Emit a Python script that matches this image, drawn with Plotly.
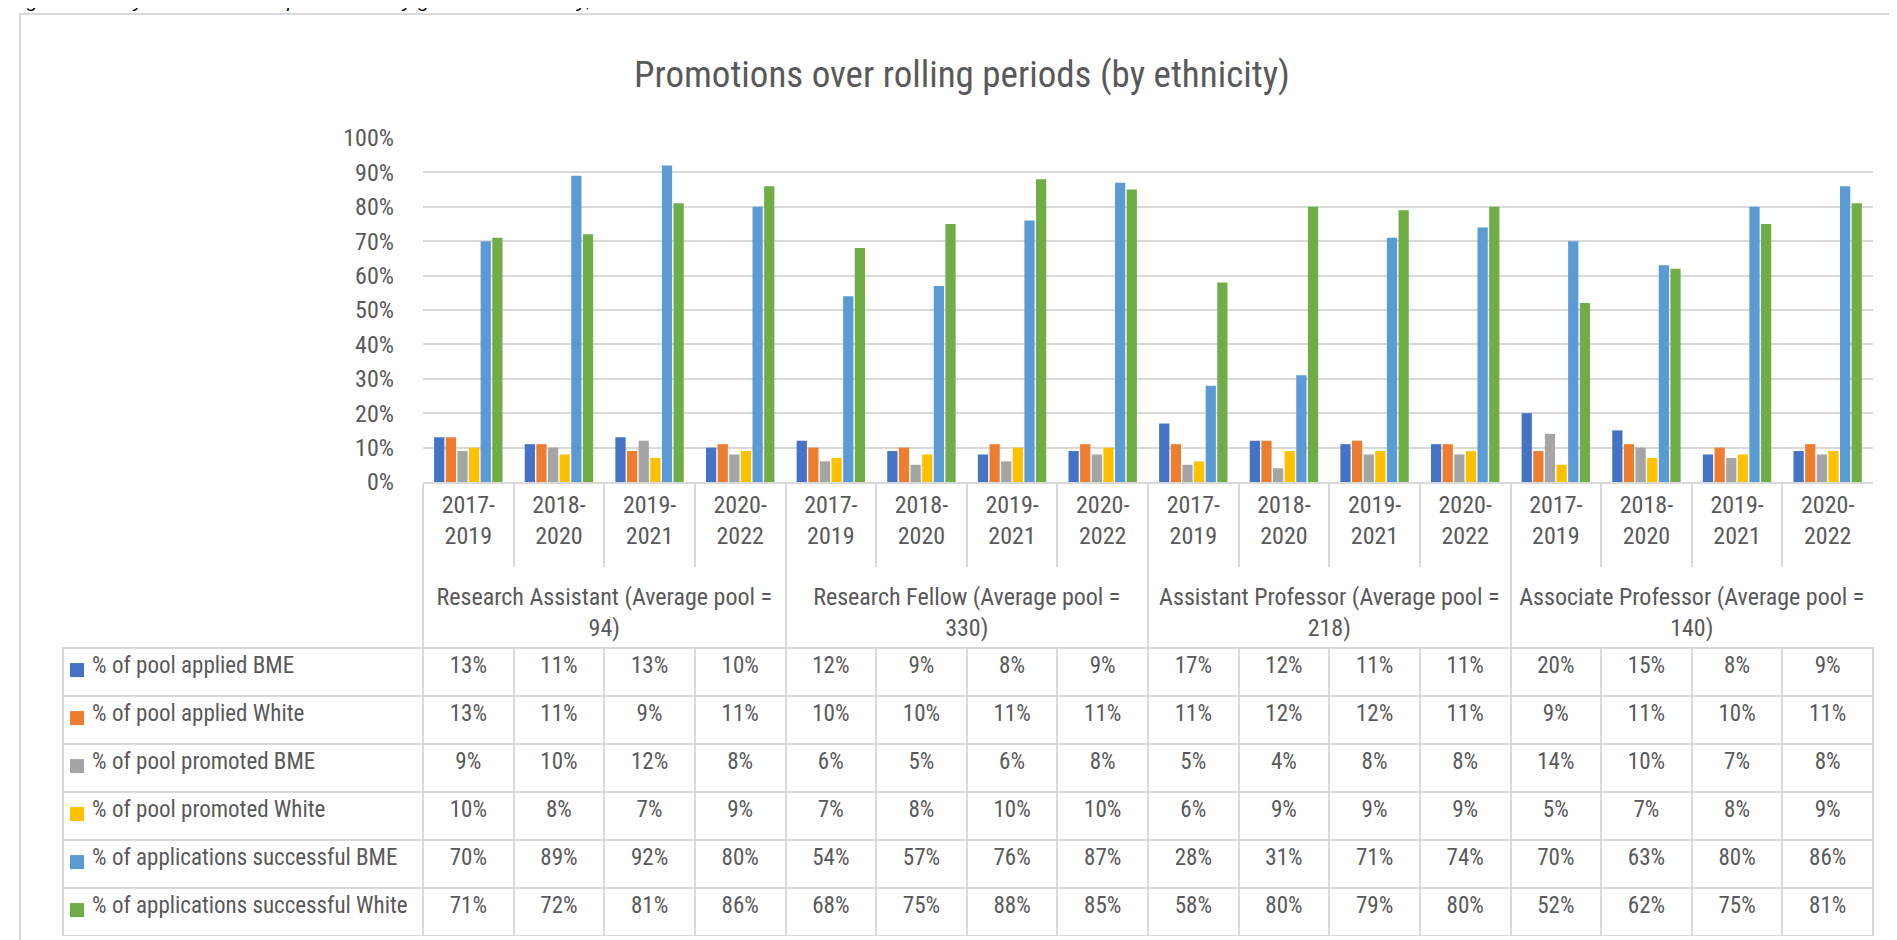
import plotly.graph_objects as go

grades = [
    "Research Assistant (Average pool =<br>94)<br> ",
    "Research Fellow (Average pool =<br>330)<br> ",
    "Assistant Professor (Average pool =<br>218)<br> ",
    "Associate Professor (Average pool =<br>140)<br> ",
]
periods = ["2017-<br>2019<br> ", "2018-<br>2020<br> ", "2019-<br>2021<br> ", "2020-<br>2022<br> "]

series_names = [
    "% of pool applied BME",
    "% of pool applied White",
    "% of pool promoted BME",
    "% of pool promoted White",
    "% of applications successful BME",
    "% of applications successful White",
]
series_colors = ["#4472C4", "#ED7D31", "#A5A5A5", "#FFC000", "#5B9BD5", "#70AD47"]

applied_bme = [13, 11, 13, 10, 12, 9, 8, 9, 17, 12, 11, 11, 20, 15, 8, 9]
applied_white = [13, 11, 9, 11, 10, 10, 11, 11, 11, 12, 12, 11, 9, 11, 10, 11]
promoted_bme = [9, 10, 12, 8, 6, 5, 6, 8, 5, 4, 8, 8, 14, 10, 7, 8]
promoted_white = [10, 8, 7, 9, 7, 8, 10, 10, 6, 9, 9, 9, 5, 7, 8, 9]
success_bme = [70, 89, 92, 80, 54, 57, 76, 87, 28, 31, 71, 74, 70, 63, 80, 86]
success_white = [71, 72, 81, 86, 68, 75, 88, 85, 58, 80, 79, 80, 52, 62, 75, 81]

series_values = [applied_bme, applied_white, promoted_bme, promoted_white,
                 success_bme, success_white]

FONT = "Liberation Sans Narrow, Arial Narrow, Roboto Condensed, Liberation Sans, sans-serif"
TXT = "#595959"
LINE = "#d9d9d9"
W, H = 1897, 940

x_groups = [g for g in grades for _ in periods]
x_periods = [p for _ in grades for p in periods]

fig = go.Figure()
for name, col, vals in zip(series_names, series_colors, series_values):
    fig.add_trace(go.Bar(
        x=[x_groups, x_periods],
        y=[v / 100 for v in vals],
        name=name,
        marker=dict(color=col, line=dict(width=0)),
        showlegend=False,
    ))

# data table under the axis
def pct(v):
    return f"{v}%"

pad = "\u00a0" * 4
row_labels = [pad + n for n in series_names]
header_vals = [row_labels[0]] + [pct(v) for v in series_values[0]]
cell_vals = [row_labels[1:]] + [[pct(s[j]) for s in series_values[1:]] for j in range(16)]

fig.add_trace(go.Table(
    domain=dict(x=[55 / W, 1865 / W], y=[1 - 928 / H, 1 - 640 / H]),
    columnwidth=[360] + [90.625] * 16,
    header=dict(values=header_vals, height=48, fill_color="rgba(0,0,0,0)",
                line=dict(color=LINE, width=2),
                align=["left"] + ["center"] * 16,
                font=dict(family=FONT, size=23, color=TXT)),
    cells=dict(values=cell_vals, height=48, fill_color="rgba(0,0,0,0)",
               line=dict(color=LINE, width=2),
               align=["left"] + ["center"] * 16,
               font=dict(family=FONT, size=23, color=TXT)),
))

# legend keys in the table's first column
fig.add_trace(go.Scatter(
    x=[14] * len(series_names),
    y=[i + 0.46 for i in range(len(series_names))],
    mode="markers",
    marker=dict(symbol="square", size=14, color=series_colors, line=dict(width=0)),
    xaxis="x2", yaxis="y2", showlegend=False, hoverinfo="skip",
))

fig.update_layout(
    width=W, height=H,
    margin=dict(l=0, r=0, t=0, b=0, autoexpand=False),
    paper_bgcolor="white", plot_bgcolor="white",
    barmode="group", bargap=0.23, bargroupgap=0.12,
    font=dict(family=FONT, color=TXT),
    title=dict(
        text="<i>Figure 4: Analysis of academic promotions by grade and ethnicity, 2017-2022</i>",
        x=2 / W, xanchor="left", y=1, yanchor="bottom", pad=dict(b=1),
        automargin=False,
        font=dict(family="Liberation Sans, sans-serif", size=20, color="black")),
    xaxis=dict(
        domain=[415 / W, 1865 / W], automargin=False,
        showline=True, linecolor=LINE, linewidth=2,
        ticks="outside", tickson="boundaries", ticklen=83,
        tickcolor=LINE, tickwidth=2,
        showdividers=True, dividercolor=LINE, dividerwidth=2,
        tickfont=dict(family=FONT, size=24, color=TXT),
        showgrid=False,
    ),
    yaxis=dict(
        domain=[1 - 474 / H, 1 - 130 / H], automargin=False,
        range=[0, 1], dtick=0.1, tickformat=".0%",
        showgrid=True, gridcolor=LINE, gridwidth=2,
        zeroline=False, showline=False,
        ticklabelstandoff=28,
        tickfont=dict(family=FONT, size=24, color=TXT),
    ),
    xaxis2=dict(domain=[55 / W, 415 / W], range=[0, 360], anchor="y2",
                visible=False, automargin=False),
    yaxis2=dict(domain=[1 - 928 / H, 1 - 640 / H], range=[6, 0], anchor="x2",
                visible=False, automargin=False),
    shapes=[dict(type="rect", xref="paper", yref="paper",
                 x0=12 / W, x1=1893 / W, y0=-0.05, y1=1 - 6 / H,
                 line=dict(color=LINE, width=2), fillcolor="rgba(0,0,0,0)",
                 layer="below")],
    annotations=[dict(
        text="Promotions over rolling periods (by ethnicity)",
        xref="paper", yref="paper", x=954 / W, y=1 - 66 / H,
        xanchor="center", yanchor="middle", showarrow=False,
        font=dict(family=FONT, size=37, color=TXT),
    )],
)

fig.write_html("out.html")
